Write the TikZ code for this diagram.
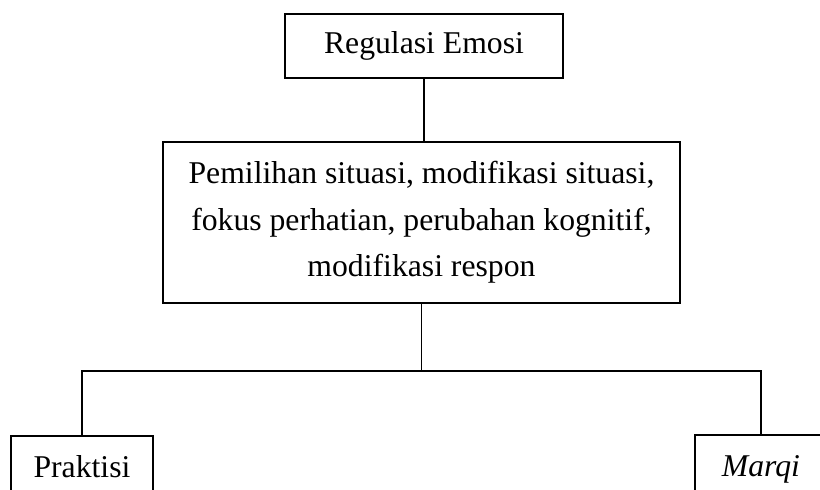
\documentclass[tikz,border=0pt]{standalone}
\usepackage{fontspec}
\setmainfont{Liberation Serif}
\begin{document}
\begin{tikzpicture}[x=1pt,y=1pt,line width=1.3pt,
	box/.style={draw, line width=1.8pt, inner sep=0pt, font=\fontsize{31.7}{46.5}\selectfont},
	leaf/.style={box, anchor=north, minimum width=142, text height=24, text depth=80, inner ysep=18}]
				% page
				\clip (0,0) rectangle (820,-490);
				% top
				\node[box, minimum width=278, minimum height=64] (reg) at (424,-46) {Regulasi Emosi};
				% middle
				\node[box, minimum width=517, minimum height=161, align=center] (proc) at (421.5,-222.5)
					{Pemilihan situasi, modifikasi situasi,\\ fokus perhatian, perubahan kognitif,\\ modifikasi respon};
				% leaves
				\node[leaf] (prak) at (82,-435) {Praktisi};
				\node[leaf, minimum width=132] (marqi) at (761,-434) {\itshape Marqi};
				\coordinate (split) at (proc.south |- 0,-371);
				% lines
				\draw (reg.south) -- (reg.south |- proc.north);
				\draw (proc.south) -- (split);
				\draw (prak.north) |- (split) -| (marqi.north);
			\end{tikzpicture}
\end{document}
